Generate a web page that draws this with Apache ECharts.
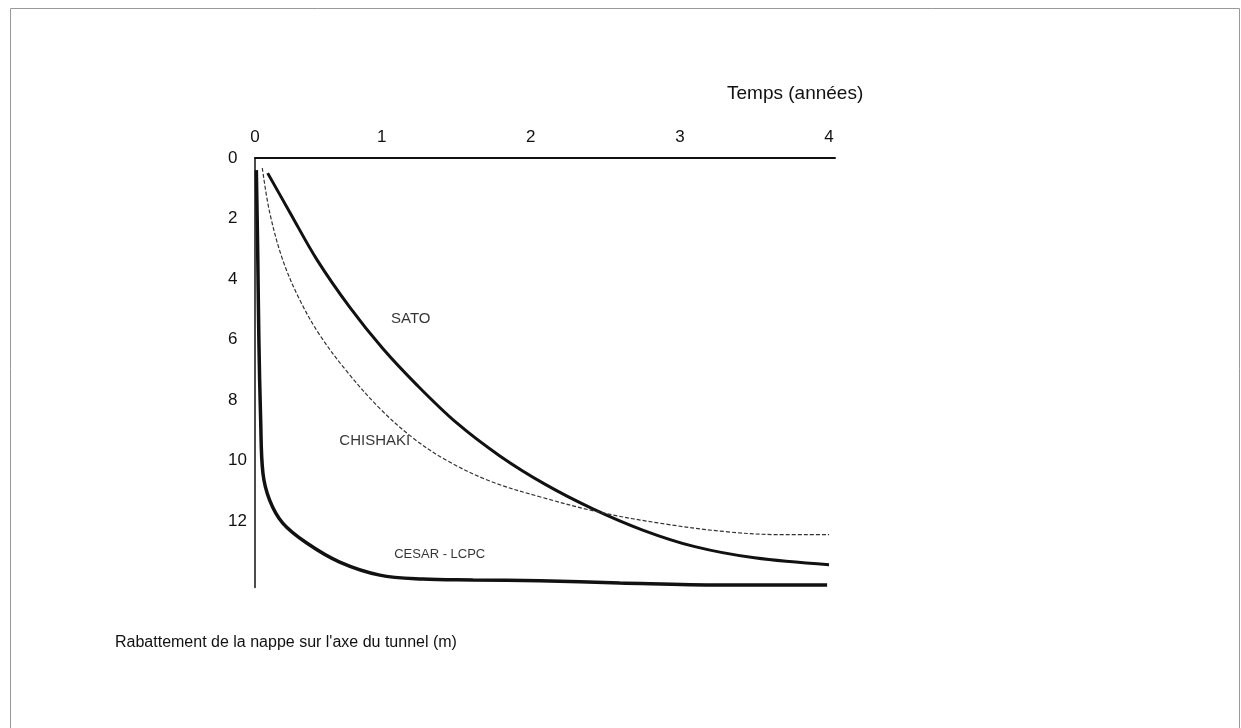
<!DOCTYPE html>
<html>
<head>
<meta charset="utf-8">
<script src="https://cdn.jsdelivr.net/npm/echarts@6/dist/echarts.min.js"></script>
<style>html,body{margin:0;padding:0;background:#fff;}#chart{width:1241px;height:728px;}</style>
</head>
<body>
<div id="chart"></div>
<script>
const xTickValues = [0.15, 1, 2, 3, 4];
const xTickLabels = ['0', '1', '2', '3', '4'];
const yTickValues = [0, 2, 4, 6, 8, 10, 12];
const yTickLabels = ['0', '2', '4', '6', '8', '10', '12'];

const satoX = [0.235, 0.383, 0.564, 0.785, 1.007, 1.235, 1.503, 1.792, 2.10, 2.416, 2.75, 3.10, 3.50, 4.00];
const satoY = [0.50, 1.79, 3.35, 4.93, 6.30, 7.50, 8.76, 9.85, 10.80, 11.60, 12.30, 12.85, 13.22, 13.45];

const chishakiX = [0.199, 0.248, 0.336, 0.450, 0.584, 0.765, 0.987, 1.208, 1.436, 1.725, 2.06, 2.47, 2.90, 3.30, 3.65, 4.00];
const chishakiY = [0.33, 1.79, 3.37, 4.69, 5.85, 7.05, 8.28, 9.25, 10.00, 10.68, 11.20, 11.72, 12.10, 12.35, 12.45, 12.45];

const cesarX = [0.159, 0.168, 0.176, 0.188, 0.203, 0.248, 0.336, 0.497, 0.718, 0.987, 1.275, 1.611, 2.06, 2.597, 3.268, 3.987];
const cesarY = [0.40, 3.04, 6.02, 8.66, 10.41, 11.31, 12.07, 12.73, 13.36, 13.79, 13.92, 13.95, 13.98, 14.05, 14.12, 14.12];

const curveNames = ['SATO', 'CHISHAKI', 'CESAR - LCPC'];
const labelX = [1.195, 0.953, 1.389];
const labelY = [5.32, 9.36, 13.09];

const xTitle = 'Temps (années)';
const yTitle = "Rabattement de la nappe sur l'axe du tunnel (m)";

function pairs(xs, ys) { return xs.map((x, i) => [x, ys[i]]); }

const font = '"Liberation Sans", Arial, Helvetica, sans-serif';
const labelSizes = [15, 15, 13];
const chart = echarts.init(document.getElementById('chart'), null, { renderer: 'canvas' });
chart.setOption({
  animation: false,
  backgroundColor: '#ffffff',
  title: [
    { text: xTitle, left: 727, top: 84, padding: 0,
      textStyle: { fontFamily: font, fontSize: 19, fontWeight: 'normal', color: '#111' } },
    { text: yTitle, left: 115, top: 635, padding: 0,
      textStyle: { fontFamily: font, fontSize: 16, fontWeight: 'normal', color: '#111' } }
  ],
  graphic: [{
    type: 'rect', left: 8, top: 6, silent: true,
    shape: { width: 1229, height: 740 },
    style: { fill: 'none', stroke: '#999', lineWidth: 1 }
  }],
  grid: { left: 255, right: 406, top: 158, bottom: 140.5, containLabel: false },
  xAxis: {
    type: 'value', position: 'top', min: 0.15, max: 4.04,
    axisLine: { show: true, onZero: false, lineStyle: { color: '#111', width: 2 } },
    axisTick: { show: false },
    splitLine: { show: false },
    axisLabel: {
      customValues: xTickValues, margin: 12,
      formatter: v => xTickLabels[xTickValues.indexOf(v)] ?? '',
      fontFamily: font, fontSize: 17, color: '#111'
    }
  },
  yAxis: {
    type: 'value', inverse: true, min: 0, max: 14.2,
    axisLine: { show: true, onZero: false, lineStyle: { color: '#111', width: 1.5 } },
    axisTick: { show: false },
    splitLine: { show: false },
    axisLabel: {
      customValues: yTickValues, margin: 27, align: 'left', padding: [7, 0, 0, 0],
      formatter: v => yTickLabels[yTickValues.indexOf(v)] ?? '',
      fontFamily: font, fontSize: 17, color: '#111'
    }
  },
  series: [
    { name: curveNames[0], type: 'line', data: pairs(satoX, satoY), showSymbol: false,
      smooth: 0.35,
      lineStyle: { color: '#111', width: 3 } },
    { name: curveNames[1], type: 'line', data: pairs(chishakiX, chishakiY), showSymbol: false,
      smooth: 0.35,
      lineStyle: { color: '#333', width: 1.2, type: [4, 2] } },
    { name: curveNames[2], type: 'line', data: pairs(cesarX, cesarY), showSymbol: false,
      smooth: 0.35,
      lineStyle: { color: '#111', width: 3.5 } },
    { name: 'labels', type: 'scatter', symbolSize: 0, silent: true, z: 5,
      data: curveNames.map((n, i) => ({ value: [labelX[i], labelY[i]], name: n,
        label: { fontSize: labelSizes[i] } })),
      label: { show: true, position: 'inside', formatter: p => p.name,
        fontFamily: font, color: '#000' } }
  ]
});
</script>
</body>
</html>
